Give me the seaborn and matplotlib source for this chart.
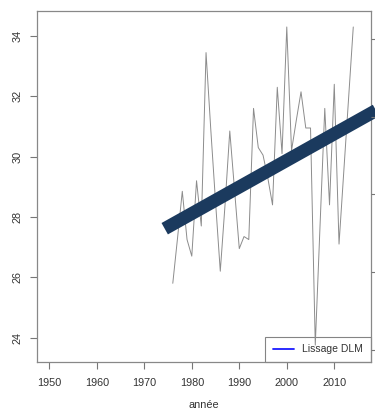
import matplotlib
matplotlib.use("Agg")
import matplotlib.pyplot as plt
import seaborn as sns
import pandas as pd
from matplotlib.lines import Line2D

# ---- data ----
years = list(range(1976, 2015))
temps = [25.8, 27.3, 28.85, 27.25, 26.7, 29.2, 27.7, 33.45, 30.9, 28.5,
         26.2, 28.4, 30.85, 28.9, 26.95, 27.35, 27.25, 31.6, 30.3, 30.05,
         29.3, 28.4, 32.3, 30.1, 34.3, 30.2, 31.2, 32.15, 30.95, 30.95,
         23.75, 27.7, 31.6, 28.4, 32.4, 27.1, 29.5, 31.9, 34.3]
trend_years = [1974.3, 2019.0]
trend_vals = [27.61, 31.55]
xticks = [1950, 1960, 1970, 1980, 1990, 2000, 2010]
yticks = [24, 26, 28, 30, 32, 34]
right_ticks = [0, 1, 2, 3, 4]
legend_label = "Lissage DLM"
xlabel = "année"

df = pd.DataFrame({"year": years, "temp": temps})
tr = pd.DataFrame({"year": trend_years, "val": trend_vals})

sns.set_theme(style="white")
plt.rcParams["font.family"] = ["Liberation Sans", "DejaVu Sans"]

fig = plt.figure(figsize=(3.75, 4.13), dpi=100)
ax = fig.add_axes([0.0979, 0.1228, 0.8914, 0.8513])

sns.lineplot(data=df, x="year", y="temp", ax=ax, color="#8c8c8c", linewidth=0.7, zorder=2)
sns.lineplot(data=tr, x="year", y="val", ax=ax, color="#1b3a5e", linewidth=9.4, zorder=3)
for ln in ax.get_lines()[1:]:
    ln.set_clip_on(False)
    ln.set_solid_capstyle("butt")

ax.set_xlim(1947.35, 2017.73)
ax.set_ylim(23.18, 34.84)
ax.set_xticks(xticks)
ax.set_yticks(yticks)
ax.set_xticklabels([str(t) for t in xticks])
ax.set_yticklabels([str(t) for t in yticks], rotation=90, va="center")
ax.tick_params(axis="both", length=5, width=0.8, color="#777777",
               labelsize=7.8, labelcolor="#333333", direction="out")
ax.tick_params(axis="x", pad=6)
ax.tick_params(axis="y", pad=5)
ax.tick_params(bottom=True, left=True)
ax.set_xlabel(xlabel, fontsize=7.8, color="#333333", labelpad=9)
ax.set_ylabel("")
for s in ax.spines.values():
    s.set_color("#888888")
    s.set_linewidth(0.9)

ax2 = ax.twinx()
ax2.set_ylim(-0.159, 4.364)
ax2.set_yticks(right_ticks)
ax2.set_yticklabels([])
ax2.tick_params(axis="y", right=True, length=5, width=0.8, color="#777777", direction="out")
for s in ax2.spines.values():
    s.set_visible(False)

handle = Line2D([0], [0], color="#1a1aff", linewidth=1.3)
leg = ax.legend([handle], [legend_label], loc="lower right", fontsize=7.5,
                frameon=True, fancybox=False, borderaxespad=0,
                edgecolor="#666666", handlelength=2.0, handletextpad=0.8,
                borderpad=0.75, labelcolor="#333333")
leg.get_frame().set_facecolor("none")
leg.get_frame().set_linewidth(0.8)
leg.set_zorder(1)

fig.savefig("out.png", dpi=100)
